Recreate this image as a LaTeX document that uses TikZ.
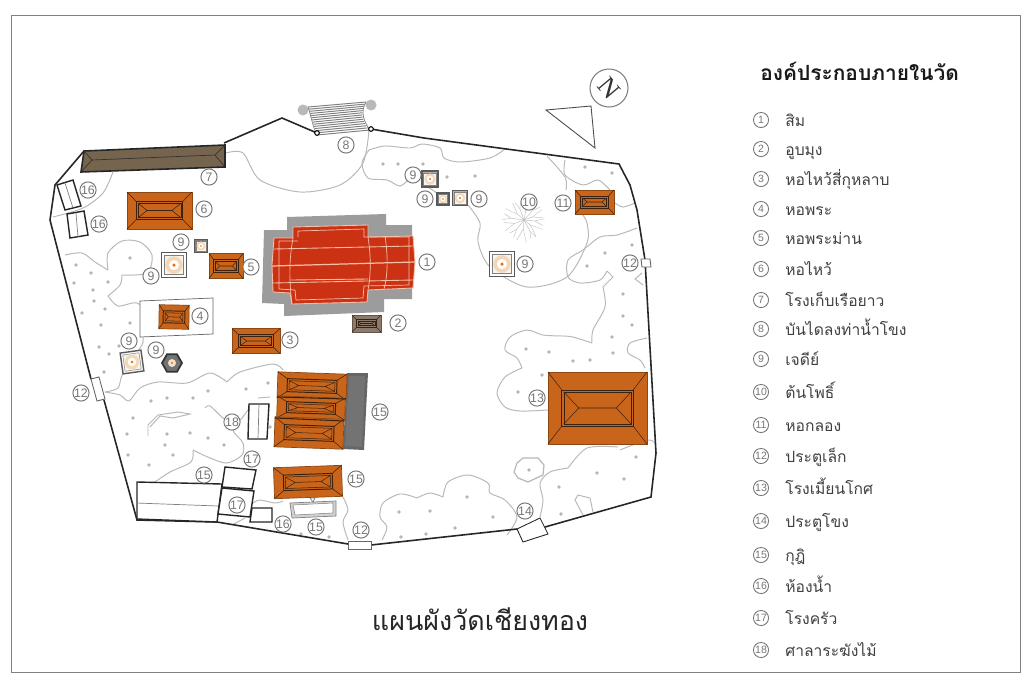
\documentclass[tikz,border=0pt]{standalone}
\usepackage{fontspec}
\setmainfont[Script=Thai]{Loma}
\setsansfont{Liberation Sans}
\newfontfamily\northfont{Liberation Serif}
\usetikzlibrary{positioning}

\definecolor{roofor}{HTML}{C8651B}
\definecolor{roofbr}{HTML}{8C7B6B}
\definecolor{roofline}{HTML}{3B2210}
\definecolor{boatbr}{HTML}{75654F}
\definecolor{simred}{HTML}{CB3213}
\definecolor{simline}{HTML}{F5BFAA}
\definecolor{simbase}{HTML}{9C9C9C}
\definecolor{tagcol}{HTML}{777777}
\definecolor{gardencol}{HTML}{B8B8B8}
\definecolor{dotcol}{HTML}{B5B5B5}
\definecolor{beigecol}{HTML}{EFE2CC}

\tikzset{
  numtag/.style={circle, draw=tagcol, fill=white, line width=0.55pt, text=tagcol,
    font=\sffamily\fontsize{7}{8}\selectfont, minimum size=9.2pt, inner sep=0pt},
  legtag/.style={numtag, line width=0.5pt, minimum size=8.6pt, font=\sffamily\fontsize{6}{7}\selectfont},
  legtext/.style={anchor=base west, text=black!75, font=\fontsize{8.9}{11}\selectfont, inner sep=0pt},
  gardenline/.style={draw=gardencol, line width=0.55pt},
  wall/.style={draw=black!85, line width=0.9pt},
  hutbox/.style={draw=black!85, fill=white, line width=0.8pt},
  thinline/.style={draw=gray, line width=0.4pt},
}

% hip roof: colour, cx, cy, w, h, rotation
\newcommand{\hiproof}[6]{
  \begin{scope}[shift={(#2,#3)}, rotate=#6]
    \filldraw[fill=#1, draw=#1!70!black, line width=0.4pt] (-#4/2,-#5/2) rectangle (#4/2,#5/2);
    \draw[roofline, line width=0.3pt] (-#4/2,-#5/2) -- (-#4*.36,-#5*.25) (#4/2,-#5/2) -- (#4*.36,-#5*.25)
      (-#4/2,#5/2) -- (-#4*.36,#5*.25) (#4/2,#5/2) -- (#4*.36,#5*.25);
    \draw[roofline, line width=0.55pt] (-#4*.36,-#5*.25) rectangle (#4*.36,#5*.25);
    \draw[roofline, line width=0.3pt] (-#4*.36+2,-#5*.25+2) rectangle (#4*.36-2,#5*.25-2);
    \draw[roofline, line width=0.3pt] (-#4*.36+2,-#5*.25+2) -- (-#4*.19,0) -- (-#4*.36+2,#5*.25-2)
      (#4*.36-2,-#5*.25+2) -- (#4*.19,0) -- (#4*.36-2,#5*.25-2) (-#4*.19,0) -- (#4*.19,0);
  \end{scope}
}
% chedi: cx, cy, size, rotation, frame fill
\newcommand{\chedi}[5]{
  \begin{scope}[shift={(#1,#2)}, rotate=#4]
    \filldraw[fill=#5, draw=black!65, line width=0.8pt] (-#3/2,-#3/2) rectangle (#3/2,#3/2);
    \filldraw[fill=beigecol!35, draw=gray, line width=0.3pt] (-#3*.39,-#3*.39) rectangle (#3*.39,#3*.39);
    \fill[beigecol!90!orange] (0,0) circle ({#3*.35});
    \fill[white] (0,0) circle ({#3*.2});
    \fill[orange!80!red] (0,0) circle ({#3*.07});
  \end{scope}
}

\begin{document}
\begin{tikzpicture}[x=0.02cm, y=-0.02cm]
  \useasboundingbox (0,0) rectangle (1032,684);
  \fill[white] (0,0) rectangle (1032,684);
  \draw[gray, line width=0.5pt] (11,15) rectangle (1020,672);

  % garden outlines
  \draw[gardenline] plot[smooth] coordinates {(226,153) (243,153) (260,180) (300,192) (340,185) (363,163) (369,130)};
  \draw[gardenline] plot[smooth] coordinates {(113,172) (103,193) (83,208) (53,217)};
  \draw[gardenline] plot[smooth] coordinates {(65,255) (82,253) (95,262) (108,270)};
  \draw[gardenline] plot[smooth] coordinates {(108,270) (108,253) (122,241) (140,242) (152,255) (147,273) (122,275)};
  \draw[gardenline] plot[smooth] coordinates {(122,275) (120,285) (108,296)};
  \draw[gardenline] plot[smooth] coordinates {(108,296) (118,306) (137,303) (150,317) (143,337) (142,345) (123,373) (118,388) (105,392)};
  \draw[gardenline] plot[smooth] coordinates {(105,392) (120,395) (129,401) (140,388) (158,382) (187,383) (210,373) (227,382)};
  \draw[gardenline] plot[smooth] coordinates {(227,382) (240,372) (273,364) (283,370)};
  \draw[gardenline] plot[smooth] coordinates {(258,398) (270,397)};
  \draw[gardenline] plot[smooth] coordinates {(248,410) (242,418) (233,430) (243,443) (242,455) (227,463) (210,458) (193,450)};
  \draw[gardenline] plot[smooth] coordinates {(193,450) (191,462) (170,472) (155,482)};
  \draw[gardenline] plot[smooth] coordinates {(205,408) (210,406) (223,418) (233,423)};
  \draw[gardenline] plot coordinates {(148,436) (148,425) (158,415) (178,412) (190,414) (173,418) (160,416) (150,427)};
  \draw[gardenline] plot[smooth] coordinates {(343,497) (348,510) (343,522) (348,540)};
  \draw[gardenline] plot[smooth] coordinates {(253,503) (260,500) (275,503) (283,501)};
  \draw[gardenline] plot[smooth] coordinates {(232,525) (245,518)};
  \draw[gardenline] plot[smooth] coordinates {(369,150) (385,146) (410,148) (422,144) (440,148) (444,158) (460,162) (490,158) (505,149)};
  \draw[gardenline] plot[smooth] coordinates {(369,150) (362,163) (368,178) (387,180) (400,186) (410,178)};
  \draw[gardenline] plot[smooth] coordinates {(425,185) (437,193)};
  \draw[gardenline] plot[smooth] coordinates {(468,205) (480,223) (478,242) (490,267) (527,287) (567,277) (587,243) (587,223) (582,214)};
  \draw[gardenline] plot[smooth] coordinates {(547,156) (565,177) (566,190)};
  \draw[gardenline] plot[smooth] coordinates {(565,160) (565,175) (583,185) (598,180) (610,190)};
  \draw[gardenline] plot[smooth] coordinates {(615,203) (623,207) (635,203)};
  \draw[gardenline] plot[smooth] coordinates {(637,228) (617,235) (600,237) (583,250) (568,260) (568,277) (580,283) (600,280) (607,271)};
  \draw[gardenline] plot coordinates {(607,271) (613,277) (603,287)};
  \draw[gardenline] plot[smooth] coordinates {(603,287) (605,307) (593,330) (592,343)};
  \draw[gardenline] plot[smooth] coordinates {(592,343) (573,337) (563,336)};
  \draw[gardenline] plot[smooth] coordinates {(563,336) (543,335) (527,330) (510,337) (505,350) (517,358) (522,368)};
  \draw[gardenline] plot[smooth] coordinates {(522,368) (505,377) (497,393) (505,407) (520,411) (548,410)};
  \draw[gardenline] plot coordinates {(642,273) (635,279) (643,285)};
  \draw[gardenline] plot[smooth] coordinates {(647,338) (630,343) (628,353) (640,360) (645,368)};
  \draw[gardenline] plot[smooth] coordinates {(655,443) (647,440) (620,450)};
  \draw[gardenline] plot[smooth] coordinates {(618,447) (587,448) (568,468)};
  \draw[gardenline] plot[smooth] coordinates {(568,468) (550,472) (540,483) (543,500) (540,517)};
  \draw[gardenline] plot coordinates {(583,515) (575,500) (578,495) (590,498) (593,512)};
  \draw[gardenline, line width=0.7pt] (523,458) -- (538,458) -- (544,465) -- (543,475) -- (528,482) -- (518,478) -- (514,472) -- (517,463) -- cycle;
  \draw[gardenline] plot[smooth] coordinates {(507,535) (517,517) (505,500) (490,493) (488,483) (468,475) (448,482) (443,497)};
  \draw[gardenline] plot[smooth] coordinates {(443,497) (430,493) (417,498)};
  \draw[gardenline] plot[smooth] coordinates {(417,498) (400,494) (383,503) (380,517) (387,527) (382,540)};

  % tree dots
  \foreach \x/\y in {399/512, 430/511, 467/497, 493/517, 455/528, 426/534, 401/537, 529/470, 559/487, 597/473, 624/479,
      636/457, 561/514, 526/349, 549/352, 573/361, 590/360, 613/353, 612/337, 623/316, 632/325, 623/294, 605/253, 587/266,
      542/375, 518/392, 383/164, 398/164, 423/164, 447/177, 475/176, 585/167, 612/173, 632/245, 76/265, 91/273, 74/283,
      108/282, 93/290, 94/301, 105/309, 82/313, 130/258, 101/325, 130/323, 99/347, 119/346, 109/354, 104/372, 151/401,
      167/398, 193/398, 208/391, 246/389, 268/383, 133/418, 127/434, 167/434, 190/433, 208/438, 165/445, 224/445, 128/455,
      173/455, 149/465, 270/427, 301/534, 329/537}
    \fill[dotcol] (\x,\y) circle (1.9);

  % bodhi tree
  \foreach \a/\r/\s in {5/11/9, 38/8/12, 62/13/7, 95/9/13, 128/12/8, 160/10/11, 188/13/8, 222/9/12, 250/12/7, 280/8/14, 312/13/8, 340/9/11} {
    \draw[gray!50, line width=0.25pt] (524,220) -- ++(\a:\r) -- ++(\a+25:\s);
    \draw[gray!50, line width=0.2pt] (524,220) ++(\a:\r) -- ++(\a-18:\s+1);
  }

  % outer wall
  \draw[wall] (224,143) -- (282,118) -- (317,133);
  \draw[wall] (371,129) -- (424,138) -- (619,164) -- (630,185) -- (637,210) -- (645,260) -- (656,453) -- (651,497) -- (545,527);
  \draw[wall] (517,529) -- (371,545);
  \draw[wall] (348,544) -- (217,522) -- (137,520) -- (104,400);
  \draw[wall] (91,379) -- (50,220) -- (55,185) -- (84,151);
  \draw[hutbox, line width=0.5pt] (517,529) -- (540,518) -- (548,534) -- (523,542) -- cycle;
  \draw[hutbox, draw=black!60, line width=0.5pt] (348,541) rectangle (371,549);
  \draw[hutbox, draw=black!60, line width=0.5pt] (91,379) -- (99,377) -- (105,399) -- (97,401) -- cycle;
  \draw[hutbox, draw=black!60, line width=0.5pt] (641,259) -- (650,259) -- (651,267) -- (642,267) -- cycle;

  % stairs to the river
  \fill[gray!55] (303,110) circle (5.5) (371,105) circle (5.5);
  \foreach \k in {0,...,13} {
    \pgfmathsetmacro{\t}{\k/13}
    \draw[gray, line width=0.55pt] ({308+9*\t},{107+28*\t}) -- ({366-18*\t+22*\t*\t},{102+28*\t});
  }
  \draw[gray, line width=0.4pt] (308,107) .. controls (311,115) and (312,125) .. (317,135);
  \draw[gray, line width=0.4pt] (366,102) .. controls (360,112) and (364,122) .. (370,130);
  \filldraw[fill=white, draw=black, line width=0.6pt] (317,133) circle (2.3) (371,129) circle (2.3);

  % north sign
  \draw[gray, line width=0.6pt] (609,88) circle (19);
  \node[rotate=-50, font=\northfont\fontsize{15}{15}\selectfont, text=black!80, inner sep=0pt] (north) at (609,88) {N};
  \draw[black!70, line width=0.5pt] (546,110) -- (591,106) -- (595,148) -- cycle;

  % boat house
  \filldraw[fill=boatbr, draw=black!85, line width=0.9pt] (84,151) -- (225,145) -- (225,167) -- (81,172) -- cycle;
  \draw[black!80, line width=0.4pt] (84,151) -- (92,160) -- (81,172) (225,145) -- (215,155) -- (225,167) (92,160) -- (215,155);

  % ubosot
  \fill[simbase] (287,217) -- (386,214) -- (386,225) -- (412,225) -- (412,299) -- (384,299) -- (384,312) -- (284,316)
    -- (284,304) -- (262,303) -- (264,230) -- (287,230) -- cycle;
  \filldraw[fill=simred, draw=simline, line width=0.5pt] (293,227) -- (368,225) -- (368,237) -- (413,236) -- (415,262) -- (413,288)
    -- (368,290) -- (367,302) -- (292,304) -- (290,293) -- (273,292) -- (272,265) -- (274,238) -- (293,238) -- cycle;
  \draw[simline, line width=0.7pt] (272,266) -- (415,262);
  \draw[simline, line width=0.5pt] (274,249) -- (413,246) (273,283) -- (413,280) (291,280) -- (368,279);
  \draw[simline, line width=0.4pt] (293,238) .. controls (289,260) and (289,280) .. (292,304);
  \draw[simline, line width=0.4pt] (368,237) .. controls (371,255) and (371,275) .. (368,290);
  \draw[simline, line width=0.4pt] (385,236) .. controls (388,255) and (388,275) .. (384,289);
  \draw[simline, line width=0.4pt] (298,237) -- (298,231) -- (364,229) -- (364,237) -- (409,237) -- (409,285) -- (364,286) -- (363,298) -- (296,300) -- (295,290) -- (279,289) -- (279,241) -- (298,241);

  % hip roofs
  \hiproof{roofor}{159.5}{210.5}{65}{37}{0}
  \hiproof{roofor}{226}{266}{34}{25}{0}
  \filldraw[fill=white, draw=black!60, line width=0.4pt] (140,301) -- (213,298) -- (213,334) -- (140,337) -- cycle;
  \hiproof{roofor}{174}{317}{30}{24}{-1}
  \hiproof{roofor}{256}{341}{48}{25}{0}
  \hiproof{roofbr}{366.5}{323.5}{29}{17}{0}
  \hiproof{roofor}{594.5}{202}{39}{24}{0}
  \hiproof{roofor}{597.5}{408}{99}{72}{0}
  \fill[black!60] (347,373) -- (368,373) -- (364,450) -- (343,449) -- cycle;
  \fill[gray!90!black] (349,376) -- (365,376) -- (362,447) -- (345,446) -- cycle;
  \hiproof{roofor}{312}{386}{69}{26}{-2}
  \hiproof{roofor}{311}{408}{68}{22}{-2}
  \hiproof{roofor}{309}{433}{69}{30}{-2}
  \draw[roofline, line width=0.6pt] (277,397) -- (346,399) (275,418) -- (344,421);
  \hiproof{roofor}{308}{482}{68}{31}{2}

  % chedis
  \chedi{174}{265}{25}{0}{white}
  \chedi{201}{246}{13}{0}{gray}
  \chedi{132}{362}{21}{8}{white}
  \filldraw[fill=black!55, draw=black!80, line width=1pt] (172,363) +(0:10) -- +(60:10) -- +(120:10) -- +(180:10) -- +(240:10) -- +(300:10) -- cycle;
  \fill[beigecol] (172,363) circle (4);
  \fill[orange!80!red] (172,363) circle (1.2);
  \chedi{430}{179}{16}{0}{gray!60}
  \chedi{443}{199}{12}{0}{gray}
  \chedi{460}{198}{15}{0}{gray!60}
  \chedi{502}{264}{25}{0}{white}

  % huts
  \draw[hutbox] (57,185) -- (73,180) -- (81,206) -- (65,210) -- cycle;
  \draw[thinline] (65,183) -- (73,208);
  \draw[hutbox] (67,214) -- (84,211) -- (88,235) -- (70,238) -- cycle;
  \draw[thinline] (76,213) -- (78,237);
  \draw[hutbox] (249,404) -- (269,404) -- (267,439) -- (248,439) -- cycle;
  \draw[thinline] (259,404) -- (258,439);
  \draw[hutbox] (137,482) -- (222,484) -- (217,522) -- (137,519) -- cycle;
  \draw[thinline] (136,503) -- (218,506);
  \draw[hutbox] (225,467) -- (256,470) -- (252,489) -- (222,487) -- cycle;
  \draw[hutbox] (222,488) -- (254,491) -- (250,517) -- (218,514) -- cycle;
  \draw[hutbox] (252,508) -- (272,508) -- (272,522) -- (250,522) -- cycle;
  \filldraw[fill=gray!35, draw=gray, line width=0.4pt] (290,503) -- (336,501) -- (336,516) -- (292,518) -- cycle;
  \filldraw[fill=white, draw=gray, line width=0.3pt] (293,505) -- (333,503) -- (333,513) -- (295,515) -- cycle;
  \draw[gray, line width=0.4pt] (310,498) -- (315,498) -- (313,502) -- cycle;

  % number tags on the plan
  \foreach \n/\x/\y [count=\i] in {1/427/262, 2/398/323, 3/290/340, 4/200/316, 5/251/267, 6/204/209, 7/209/177, 8/346/145,
      9/181/242, 9/151/276, 9/129/341, 9/156/350, 9/413/175, 9/425/199, 9/479/199, 9/525/264, 10/529/202, 11/563/203,
      12/630/263, 12/81/393, 12/361/530, 13/537/398, 14/525/511, 15/380/412, 15/204/475, 15/356/479, 15/316/527,
      16/88/190, 16/99/224, 16/283/524, 17/252/459, 17/237/505, 18/232/422}
    \node[numtag] (tag\i) at (\x,\y) {\n};

  % legend
  \node[anchor=base west, inner sep=0pt, font=\bfseries\fontsize{11.9}{14}\selectfont, text=black!90] (legtitle) at (760,80) {องค์ประกอบภายในวัด};
  \foreach \n/\y/\t in {1/120/สิม, 2/149/อูบมุง, 3/179/หอไหว้สี่กุหลาบ, 4/209/หอพระ, 5/238/หอพระม่าน, 6/269/หอไหว้,
      7/300/โรงเก็บเรือยาว, 8/329/บันไดลงท่าน้ำโขง, 9/359/เจดีย์, 10/392/ต้นโพธิ์, 11/425/หอกลอง, 12/456/ประตูเล็ก,
      13/488/โรงเมี้ยนโกศ, 14/521/ประตูโขง, 15/555/กุฎิ, 16/586/ห้องน้ำ, 17/618/โรงครัว, 18/650/ศาลาระฆังไม้} {
    \node[legtag] (leg\n) at (761,\y) {\n};
    \node[legtext] (legname\n) at (785,\y+6) {\t};
  }

  % title
  \node[font=\fontsize{15.3}{18}\selectfont, text=black!85, inner sep=0pt] (plantitle) at (480,619) {แผนผังวัดเชียงทอง};
\end{tikzpicture}
\end{document}
